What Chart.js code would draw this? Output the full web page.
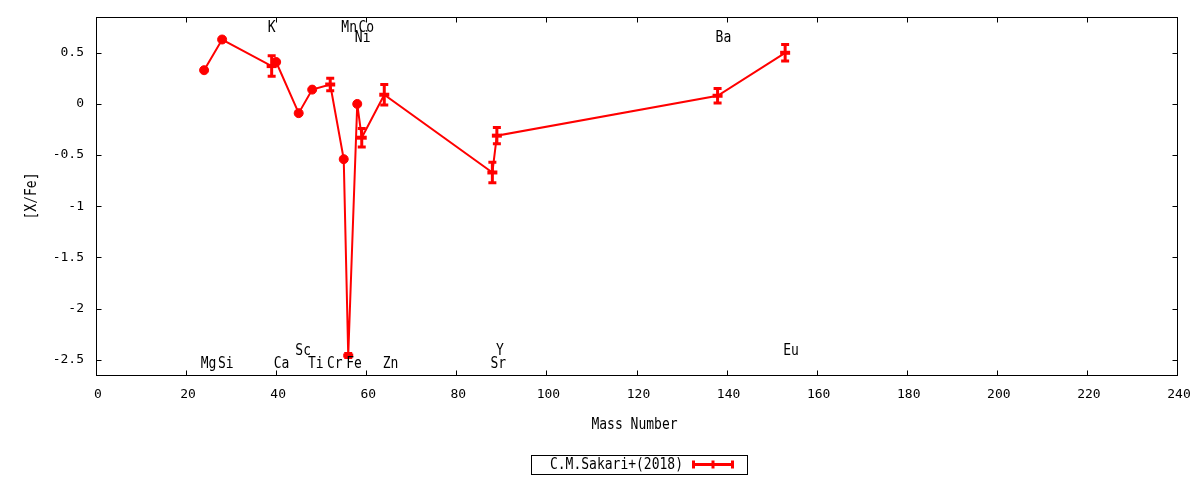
<!DOCTYPE html>
<html>
<head>
<meta charset="utf-8">
<script src="https://cdn.jsdelivr.net/npm/chart.js@4.4.1/dist/chart.umd.min.js"></script>
<style>
  html, body { margin: 0; padding: 0; background: #fff; }
  #wrap { width: 1200px; height: 480px; position: relative; }
</style>
</head>
<body>
<div id="wrap"><canvas id="chart"></canvas></div>
<script>
// dados
const elements = ['Mg', 'Si', 'K', 'Ca', 'Sc', 'Ti', 'Cr', 'Mn', 'Fe', 'Co', 'Ni', 'Zn', 'Sr', 'Y', 'Ba', 'Eu'];
const massNumber = [24, 28, 39, 40, 45, 48, 52, 55, 56, 58, 59, 64, 88, 89, 138, 153];
const xFe = [0.33, 0.63, 0.37, 0.41, -0.09, 0.14, 0.19, -0.54, -2.46, 0.0, -0.33, 0.09, -0.67, -0.31, 0.08, 0.50];
const xFeErr = [0, 0, 0.10, 0, 0, 0, 0.06, 0, 0.02, 0, 0.09, 0.10, 0.10, 0.08, 0.07, 0.08];

// rótulos dos elementos (em unidades dos eixos)
const labelText = ['Mg', 'Si', 'K', 'Ca', 'Sc', 'Ti', 'Cr', 'Fe', 'Zn', 'Sr', 'Y', 'Eu', 'Mn', 'Co', 'Ni', 'Ba'];
const labelMass = [25, 28.8, 39, 41.2, 46, 48.8, 53, 57.3, 65.4, 89.3, 89.7, 154.3, 56.2, 60, 59.2, 139.3];
const labelY = [-2.53, -2.53, 0.755, -2.53, -2.40, -2.53, -2.53, -2.53, -2.53, -2.53, -2.40, -2.40, 0.755, 0.755, 0.66, 0.66];

// eixos
const xRange = [0, 240];
const xTickValues = [0, 20, 40, 60, 80, 100, 120, 140, 160, 180, 200, 220, 240];
const yRange = [-2.65, 0.85];
const yTickValues = [-2.5, -2, -1.5, -1, -0.5, 0, 0.5];
const seriesName = 'C.M.Sakari+(2018)';

const RED = '#ff0000';
const FONT = "'DejaVu Sans Mono', monospace";

Chart.defaults.font.family = FONT;
Chart.defaults.font.size = 13;
Chart.defaults.color = '#000';

const points = massNumber.map((m, i) => ({ x: m, y: xFe[i] }));

// texto um pouco "esticado" na vertical, parecido com a fonte do gnuplot
function tallText(ctx, s, x, y) {
  ctx.save();
  ctx.translate(x, y);
  ctx.scale(1, 1.25);
  ctx.fillText(s, 0, 0);
  ctx.restore();
}

const gnuplotLook = {
  id: 'gnuplotLook',
  afterDatasetsDraw(chart) {
    const { ctx } = chart;
    const xs = chart.scales.x, ys = chart.scales.y;
    ctx.save();
    ctx.strokeStyle = RED;
    ctx.lineWidth = 3;
    ctx.lineCap = 'butt';
    massNumber.forEach((m, i) => {
      const e = xFeErr[i];
      if (!e) return;
      const px = xs.getPixelForValue(m);
      const top = ys.getPixelForValue(xFe[i] + e);
      const bot = ys.getPixelForValue(xFe[i] - e);
      ctx.beginPath();
      ctx.moveTo(px, top); ctx.lineTo(px, bot);
      ctx.moveTo(px - 4, top); ctx.lineTo(px + 4, top);
      ctx.moveTo(px - 4, bot); ctx.lineTo(px + 4, bot);
      ctx.stroke();
    });
    ctx.restore();
  },
  afterDraw(chart) {
    const { ctx, chartArea: a } = chart;
    const xs = chart.scales.x, ys = chart.scales.y;
    ctx.save();
    // moldura e ticks para dentro
    ctx.strokeStyle = '#000';
    ctx.lineWidth = 1;
    const L = Math.round(a.left) + 0.5, R = Math.round(a.right) + 0.5;
    const T = Math.round(a.top) + 0.5, B = Math.round(a.bottom) + 0.5;
    ctx.strokeRect(L, T, R - L, B - T);
    ctx.beginPath();
    xs.ticks.forEach(t => {
      const p = Math.round(xs.getPixelForValue(t.value)) + 0.5;
      ctx.moveTo(p, B); ctx.lineTo(p, B - 5);
      ctx.moveTo(p, T); ctx.lineTo(p, T + 5);
    });
    ys.ticks.forEach(t => {
      const p = Math.round(ys.getPixelForValue(t.value)) + 0.5;
      ctx.moveTo(L, p); ctx.lineTo(L + 5, p);
      ctx.moveTo(R, p); ctx.lineTo(R - 5, p);
    });
    ctx.stroke();

    // nomes dos elementos
    ctx.fillStyle = '#000';
    ctx.font = '13px ' + FONT;
    ctx.textAlign = 'center';
    ctx.textBaseline = 'middle';
    labelText.forEach((s, i) => {
      tallText(ctx, s, xs.getPixelForValue(labelMass[i]), ys.getPixelForValue(labelY[i]) + 1);
    });

    // títulos dos eixos
    tallText(ctx, 'Mass Number', (a.left + a.right) / 2 - 2, 425);
    ctx.save();
    ctx.translate(32, 196);
    ctx.rotate(-Math.PI / 2);
    ctx.scale(1, 1.25);
    ctx.fillText('[X/Fe]', 0, 0);
    ctx.restore();

    // legenda
    ctx.strokeRect(531.5, 455.5, 216, 19);
    ctx.textAlign = 'right';
    tallText(ctx, seriesName, 683, 465);
    ctx.strokeStyle = RED;
    ctx.lineWidth = 3;
    ctx.beginPath();
    ctx.moveTo(692, 464.5); ctx.lineTo(734, 464.5);
    [693.5, 713, 732.5].forEach(x => { ctx.moveTo(x, 460.5); ctx.lineTo(x, 468.5); });
    ctx.stroke();
    ctx.restore();
  }
};

new Chart(document.getElementById('chart'), {
  type: 'line',
  data: {
    datasets: [{
      label: seriesName,
      data: points,
      borderColor: RED,
      backgroundColor: RED,
      borderWidth: 2,
      pointStyle: xFeErr.map(e => e ? 'line' : 'circle'),
      pointRadius: xFeErr.map(e => e ? 5 : 4.5),
      pointBorderWidth: xFeErr.map(e => e ? 4 : 1),
      pointHoverRadius: 0,
      tension: 0
    }]
  },
  options: {
    responsive: true,
    maintainAspectRatio: false,
    animation: false,
    events: [],
    layout: { padding: { top: 17, right: 23, left: 0, bottom: 0 } },
    plugins: { legend: { display: false }, tooltip: { enabled: false } },
    scales: {
      x: {
        type: 'linear',
        min: xRange[0], max: xRange[1],
        grid: { display: false, drawTicks: false },
        border: { display: false },
        ticks: { padding: 12, labelOffset: 2, maxRotation: 0, autoSkip: false,
                 callback: v => String(v) },
        afterBuildTicks: s => { s.ticks = xTickValues.map(v => ({ value: v })); },
        afterFit: s => { s.height = 105; s.paddingLeft = 0; s.paddingRight = 0; }
      },
      y: {
        min: yRange[0], max: yRange[1],
        grid: { display: false, drawTicks: false },
        border: { display: false },
        ticks: { padding: 12, autoSkip: false,
                 callback: v => String(v) },
        afterBuildTicks: s => { s.ticks = yTickValues.map(v => ({ value: v })); },
        afterFit: s => { s.width = 96; s.paddingTop = 0; s.paddingBottom = 0; }
      }
    }
  },
  plugins: [gnuplotLook]
});
</script>
</body>
</html>
